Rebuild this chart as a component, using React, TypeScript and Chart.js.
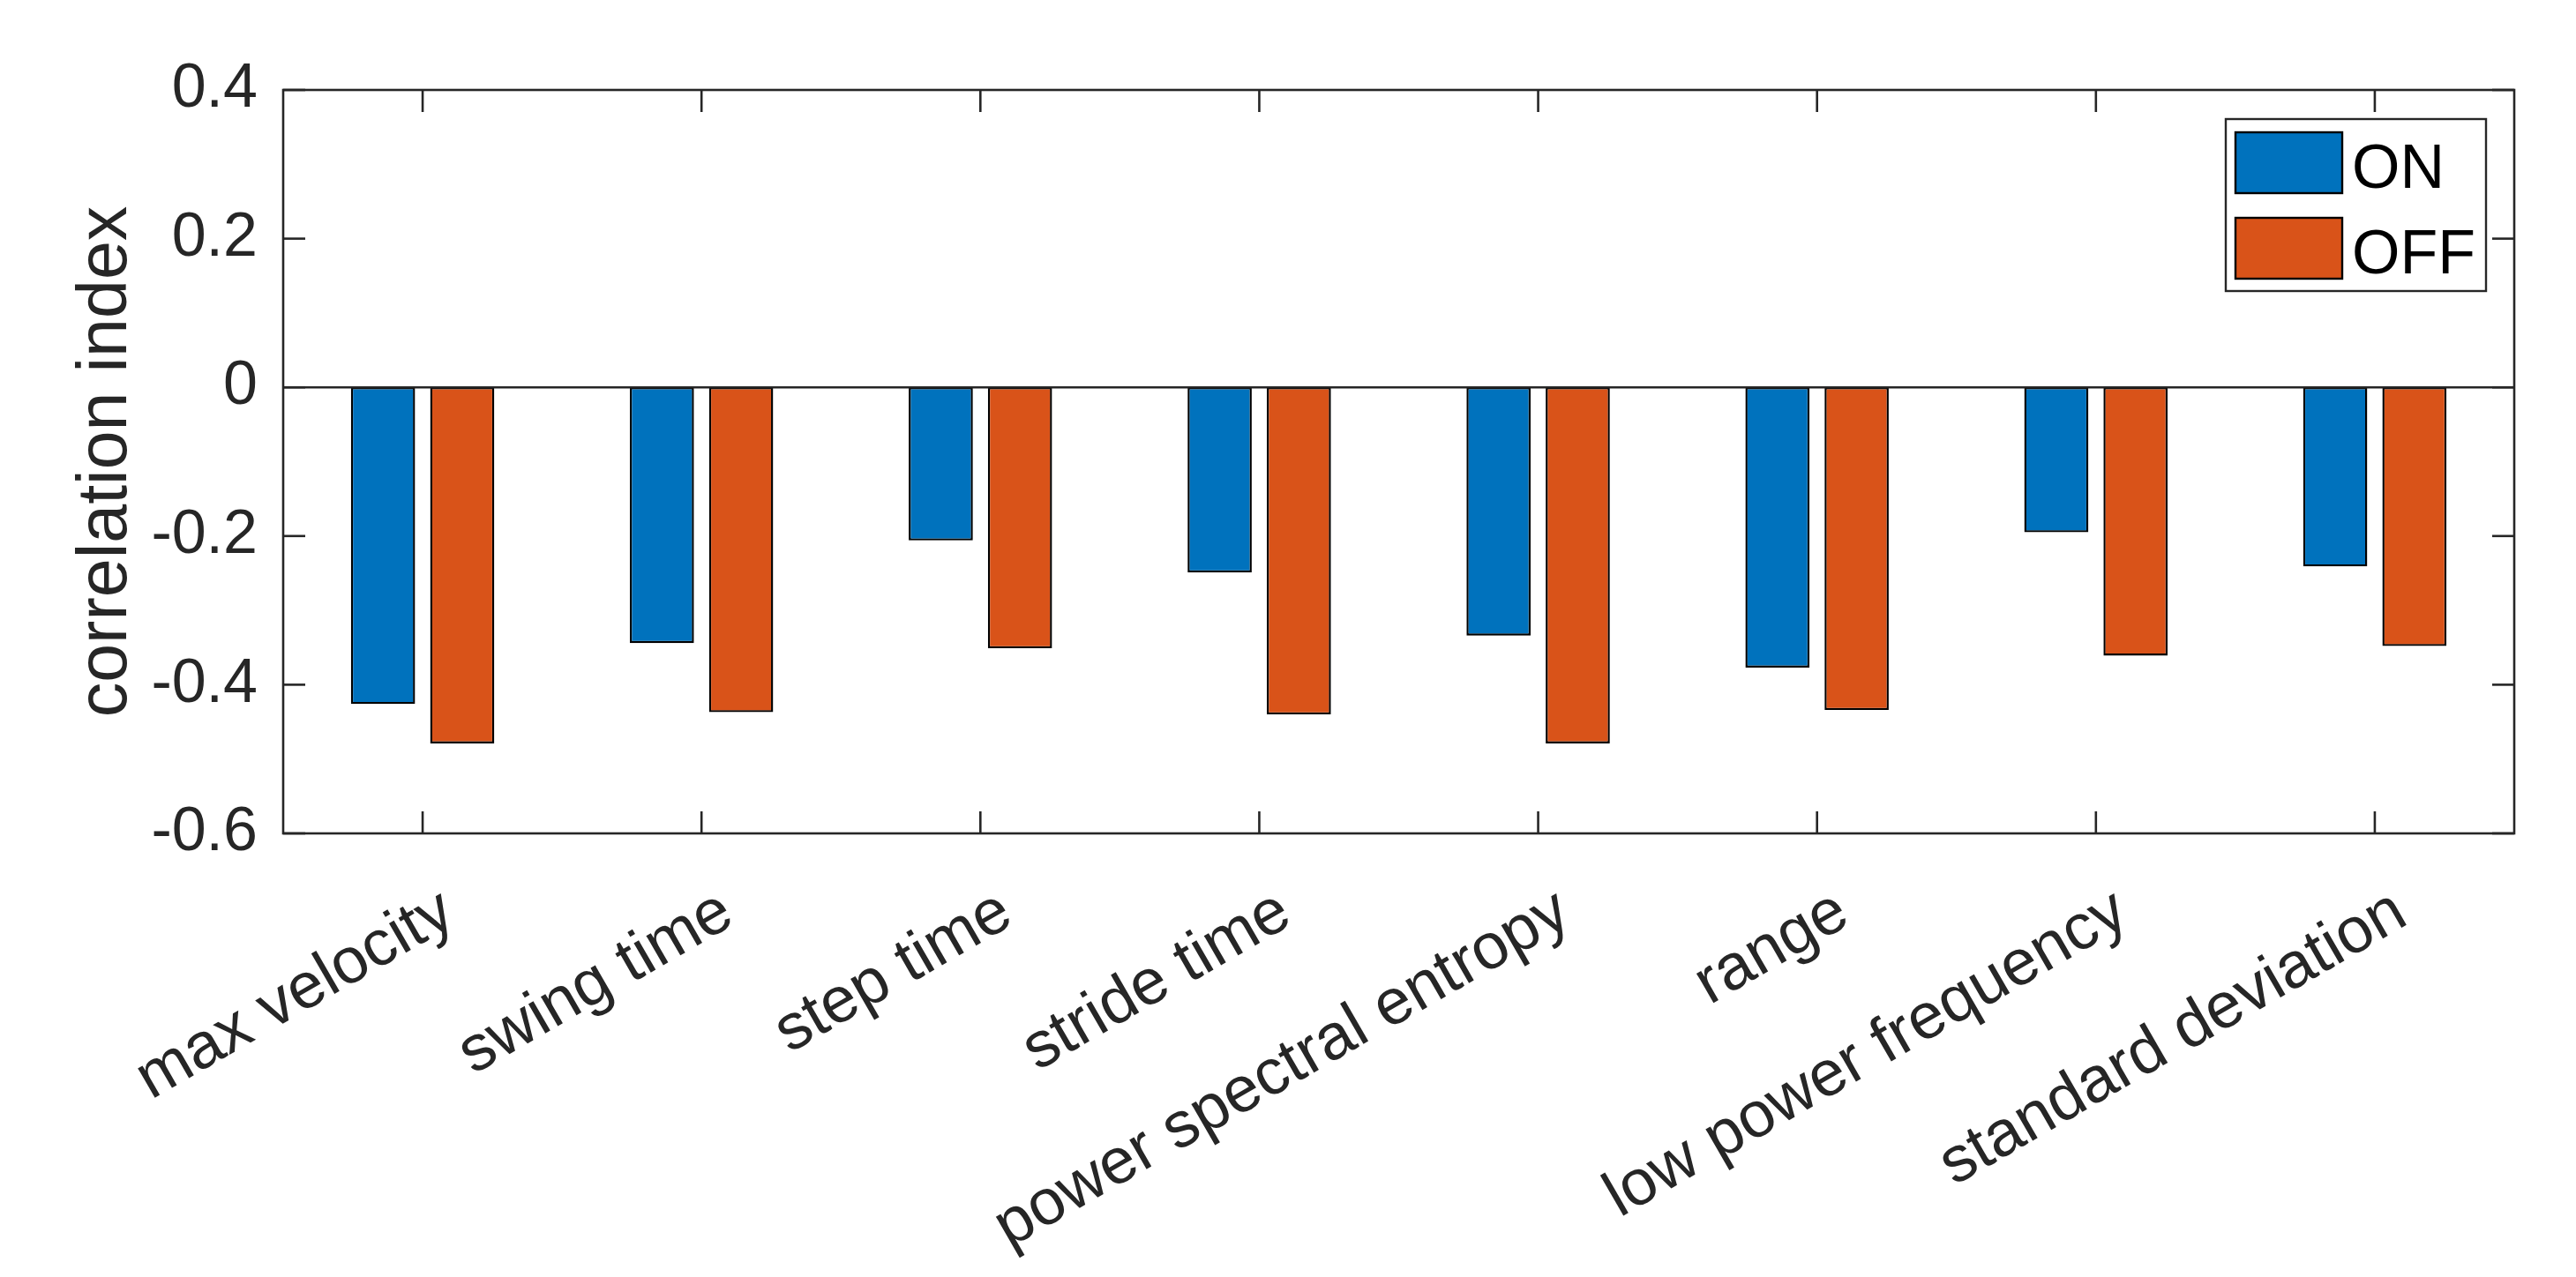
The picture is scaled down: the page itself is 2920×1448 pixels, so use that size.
import React, { useEffect, useRef } from "react";
import { Chart, registerables } from "chart.js";

Chart.register(...registerables);

// ---- data ----
const categories = [
  "max velocity",
  "swing time",
  "step time",
  "stride time",
  "power spectral entropy",
  "range",
  "low power frequency",
  "standard deviation",
];
const seriesLabels = ["ON", "OFF"];
const onValues = [-0.426, -0.344, -0.206, -0.249, -0.334, -0.377, -0.195, -0.241];
const offValues = [-0.479, -0.437, -0.351, -0.44, -0.479, -0.434, -0.361, -0.348];
const yTickValues = [-0.6, -0.4, -0.2, 0, 0.2, 0.4];
const yTickLabels = ["-0.6", "-0.4", "-0.2", "0", "0.2", "0.4"];
const yTitle = "correlation index";

// ---- style ----
const W = 2920;
const H = 1448;
const AXIS_COLOR = "#262626";
const ON_COLOR = "#0072BD";
const OFF_COLOR = "#D95319";
const FONT = "'Liberation Sans', Arial, Helvetica, sans-serif";
const FONT_SIZE = 70;
const XLABEL_SIZE = 73;
const TITLE_SIZE = 79;
const TICK_LEN = 25;
const AXIS_LW = 2.6;

const matlabAxes = {
  id: "matlabAxes",
  afterDatasetsDraw(chart: any) {
    const { ctx, chartArea, scales } = chart;
    const { left, right, top, bottom } = chartArea;
    const x = scales.x;
    const y = scales.y;
    ctx.save();
    ctx.strokeStyle = AXIS_COLOR;
    ctx.lineWidth = AXIS_LW;
    ctx.lineCap = "butt";
    const line = (x1: number, y1: number, x2: number, y2: number) => {
      ctx.beginPath();
      ctx.moveTo(x1, y1);
      ctx.lineTo(x2, y2);
      ctx.stroke();
    };
    // baseline at zero
    const y0 = y.getPixelForValue(0);
    line(left, y0, right, y0);
    // box
    ctx.strokeRect(left, top, right - left, bottom - top);
    // inward ticks
    y.ticks.forEach((t: any) => {
      const py = y.getPixelForValue(t.value);
      line(left, py, left + TICK_LEN, py);
      line(right, py, right - TICK_LEN, py);
    });
    x.ticks.forEach((_t: any, i: number) => {
      const px = x.getPixelForTick(i);
      line(px, bottom, px, bottom - TICK_LEN);
      line(px, top, px, top + TICK_LEN);
    });

    // legend (MATLAB style, top right inside axes)
    const boxW = 295;
    const boxH = 195;
    const bx = right - 32 - boxW;
    const by = top + 33;
    ctx.fillStyle = "#ffffff";
    ctx.fillRect(bx, by, boxW, boxH);
    ctx.strokeStyle = AXIS_COLOR;
    ctx.lineWidth = 2.4;
    ctx.strokeRect(bx, by, boxW, boxH);
    ctx.font = `${FONT_SIZE}px ${FONT}`;
    ctx.textAlign = "left";
    ctx.textBaseline = "alphabetic";
    chart.data.datasets.forEach((ds: any, i: number) => {
      const sy = by + 15 + i * 97;
      ctx.fillStyle = ds.backgroundColor;
      ctx.fillRect(bx + 11, sy, 121, 69);
      ctx.strokeStyle = "#000000";
      ctx.lineWidth = 2.4;
      ctx.strokeRect(bx + 11, sy, 121, 69);
      ctx.fillStyle = "#000000";
      ctx.fillText(ds.label, bx + 143, sy + 63);
    });
    ctx.restore();
  },
};

export default function App() {
  const canvasRef = useRef<HTMLCanvasElement | null>(null);

  useEffect(() => {
    document.body.style.margin = "0";
    const canvas = canvasRef.current;
    if (!canvas) return;
    Chart.defaults.font.family = FONT;
    Chart.defaults.color = AXIS_COLOR;

    const chart = new Chart(canvas, {
      type: "bar",
      data: {
        labels: categories,
        datasets: [
          {
            label: seriesLabels[0],
            data: onValues,
            backgroundColor: ON_COLOR,
            borderColor: "#000000",
            borderWidth: 2.4,
            borderSkipped: false,
            categoryPercentage: 0.568,
            barPercentage: 0.81,
          },
          {
            label: seriesLabels[1],
            data: offValues,
            backgroundColor: OFF_COLOR,
            borderColor: "#000000",
            borderWidth: 2.4,
            borderSkipped: false,
            categoryPercentage: 0.568,
            barPercentage: 0.81,
          },
        ],
      },
      options: {
        responsive: false,
        animation: false,
        devicePixelRatio: 1,
        layout: { padding: { left: 0, right: 70, top: 102, bottom: 0 } },
        plugins: {
          legend: { display: false },
          tooltip: { enabled: false },
          title: { display: false },
        },
        scales: {
          x: {
            type: "category",
            offset: true,
            grid: { display: false, drawTicks: false },
            border: { display: false },
            ticks: {
              autoSkip: false,
              minRotation: 30,
              maxRotation: 30,
              padding: 46,
              labelOffset: 30,
              color: AXIS_COLOR,
              font: { size: XLABEL_SIZE, family: FONT },
            },
            afterFit: (s: any) => {
              s.height = 503;
            },
          },
          y: {
            type: "linear",
            min: -0.6,
            max: 0.4,
            grid: { display: false, drawTicks: false },
            border: { display: false },
            afterBuildTicks: (s: any) => {
              s.ticks = yTickValues.map((v) => ({ value: v }));
            },
            ticks: {
              padding: 29,
              color: AXIS_COLOR,
              font: { size: FONT_SIZE, family: FONT },
              callback: (value: any) => {
                const idx = yTickValues.findIndex((v) => Math.abs(v - Number(value)) < 1e-9);
                return idx >= 0 ? yTickLabels[idx] : "";
              },
            },
            title: {
              display: true,
              text: yTitle,
              color: AXIS_COLOR,
              font: { size: TITLE_SIZE, family: FONT },
              padding: { top: 74, bottom: 0 },
            },
            afterFit: (s: any) => {
              s.width = 321;
            },
          },
        },
      },
      plugins: [matlabAxes],
    });

    return () => chart.destroy();
  }, []);

  return (
    <div style={{ position: "absolute", left: 0, top: 0, width: W, height: H, background: "#ffffff" }}>
      <canvas ref={canvasRef} width={W} height={H} style={{ width: W, height: H, display: "block" }} />
    </div>
  );
}
